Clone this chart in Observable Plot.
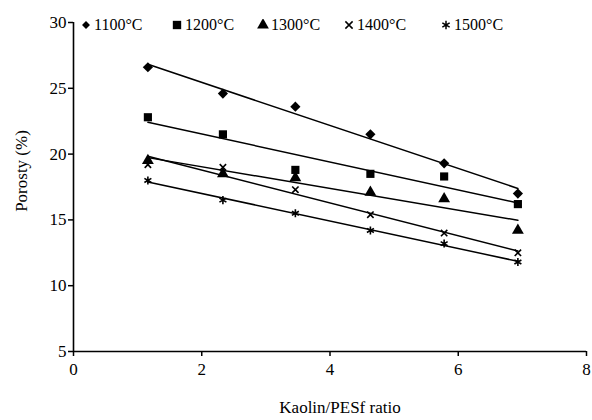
<!DOCTYPE html>
<html>
<head>
<meta charset="utf-8">
<script src="https://cdn.jsdelivr.net/npm/d3@7"></script>
<script src="https://cdn.jsdelivr.net/npm/@observablehq/plot@0.6"></script>
<style>
  html, body { margin: 0; padding: 0; background: #fff; }
  #wrap { position: relative; width: 592px; height: 420px; font-family: "Liberation Serif", "Times New Roman", serif; }
  #wrap svg text { font-family: "Liberation Serif", "Times New Roman", serif; }
  #legend { position: absolute; top: 16px; left: 0; height: 20px; font-size: 16px; color: #000; }
  .item { position: absolute; top: 0; display: flex; align-items: center; white-space: nowrap; }
  .item svg { margin-right: 2px; }
</style>
</head>
<body>
<div id="wrap"><div id="legend"></div></div>
<script>
const ratios = [1.16, 2.33, 3.46, 4.63, 5.78, 6.93];
const temps = ["1100°C", "1200°C", "1300°C", "1400°C", "1500°C"];
const p1100 = [26.6, 24.6, 23.6, 21.5, 19.3, 17.0];
const p1200 = [22.8, 21.5, 18.8, 18.5, 18.3, 16.2];
const p1300 = [19.5, 18.5, 18.2, 17.1, 16.6, 14.2];
const p1400 = [19.2, 19.0, 17.3, 15.4, 14.0, 12.5];
const p1500 = [18.0, 16.5, 15.5, 14.2, 13.2, 11.8];
const yTicks = [5, 10, 15, 20, 25, 30];
const xTicks = [0, 2, 4, 6, 8];

const series = [p1100, p1200, p1300, p1400, p1500];
const symbols = ["diamond2", "square", "triangle", "times", "asterisk"];
const filled = [true, true, true, false, false];
const radii = [4.6, 4.6, 4.4, 3.0, 3.8];

const data = [];
series.forEach((vals, i) => vals.forEach((v, j) => data.push({temp: temps[i], ratio: ratios[j], porosity: v})));

const font = '"Liberation Serif", "Times New Roman", serif';

const dotMarks = temps.map((t, i) => Plot.dot(data.filter(d => d.temp === t), {
  x: "ratio", y: "porosity", symbol: () => symbols[i], r: radii[i],
  fill: filled[i] ? "black" : "none",
  stroke: filled[i] ? "none" : "black",
  strokeWidth: filled[i] ? 0 : 1.6
}));

const chart = Plot.plot({
  width: 592,
  height: 420,
  marginLeft: 73,
  marginRight: 6,
  marginTop: 22,
  marginBottom: 69,
  style: {fontFamily: font, background: "white", color: "black"},
  symbol: {type: "identity"},
  x: {domain: [0, 8]},
  y: {domain: [5, 30]},
  marks: [
    Plot.axisX({ticks: xTicks, tickSize: 5, tickPadding: 6, fontSize: 17, label: null, strokeWidth: 1.5}),
    Plot.axisY({ticks: yTicks, tickSize: 5, tickPadding: 2, fontSize: 17, label: null, strokeWidth: 1.5}),
    Plot.ruleX([0], {stroke: "black", strokeWidth: 1.6}),
    Plot.ruleY([5], {stroke: "black", strokeWidth: 1.6}),
    Plot.linearRegressionY(data, {x: "ratio", y: "porosity", z: "temp", ci: 0, stroke: "black", strokeWidth: 1.5}),
    ...dotMarks,
    Plot.text(["Porosty (%)"], {text: d => d, frameAnchor: "left", rotate: -90, dx: -52, dy: -16, fontSize: 17, textAnchor: "middle", lineAnchor: "middle", fill: "black"}),
    Plot.text(["Kaolin/PESf ratio"], {text: d => d, frameAnchor: "bottom", dx: 10, dy: 56, fontSize: 17, textAnchor: "middle", lineAnchor: "middle", fill: "black"})
  ]
});
document.getElementById("wrap").prepend(chart);

// legend
const legend = d3.select("#legend");
const lefts = [80, 171, 257, 343, 440];
const legSizes = [40, 70, 60, 36, 50];
temps.forEach((t, i) => {
  const item = legend.append("div").attr("class", "item").style("left", lefts[i] + "px");
  const s = item.append("svg").attr("width", 12).attr("height", 12);
  const type = {diamond2: d3.symbolDiamond2, square: d3.symbolSquare, triangle: d3.symbolTriangle, times: d3.symbolTimes, asterisk: d3.symbolAsterisk}[symbols[i]];
  s.append("path").attr("transform", "translate(6,6)")
    .attr("d", d3.symbol(type, legSizes[i])())
    .attr("fill", filled[i] ? "black" : "none")
    .attr("stroke", filled[i] ? "none" : "black")
    .attr("stroke-width", 1.5);
  item.append("span").text(t);
});
</script>
</body>
</html>
